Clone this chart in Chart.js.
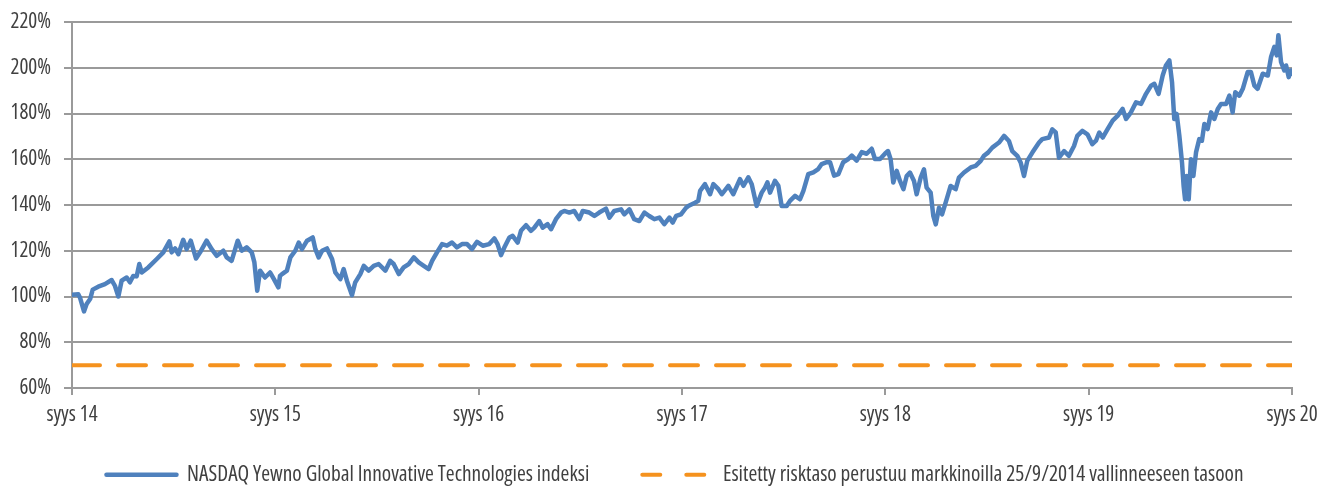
<!DOCTYPE html>
<html>
<head>
<meta charset="utf-8">
<script src="https://cdn.jsdelivr.net/npm/chart.js@4/dist/chart.umd.min.js"></script>
<style>
  html, body { margin: 0; padding: 0; background: #ffffff; }
  canvas { display: block; }
</style>
</head>
<body>
<canvas id="c" width="1336" height="493"></canvas>
<script>
// ---- data (x = years since "syys 14", y = index level in %) ----
const xTickLabels = ['syys 14', 'syys 15', 'syys 16', 'syys 17', 'syys 18', 'syys 19', 'syys 20'];
const seriesNames = ['NASDAQ Yewno Global Innovative Technologies indeksi',
                     'Esitetty risktaso perustuu markkinoilla 25/9/2014 vallinneeseen tasoon'];
const years = [
  0, 0.031, 0.039, 0.059, 0.072, 0.089, 0.102, 0.129, 0.162, 0.195, 0.211, 0.228, 0.244, 0.269, 0.285,
  0.301, 0.318, 0.331, 0.343, 0.375, 0.417, 0.449, 0.479, 0.49, 0.507, 0.523, 0.547, 0.564, 0.584, 0.61,
  0.63, 0.662, 0.687, 0.712, 0.744, 0.761, 0.785, 0.815, 0.835, 0.859, 0.884, 0.897, 0.911, 0.925, 0.949,
  0.974, 0.993, 1.015, 1.023,
  1.033, 1.057, 1.074, 1.098, 1.115, 1.131, 1.156, 1.184, 1.197, 1.213, 1.23, 1.254, 1.279, 1.295, 1.32,
  1.336, 1.352, 1.377, 1.393, 1.418, 1.435, 1.459, 1.484, 1.508, 1.541, 1.565, 1.582, 1.607, 1.631, 1.656,
  1.681, 1.705, 1.73, 1.754, 1.771, 1.795, 1.82, 1.844, 1.869, 1.893, 1.918, 1.943, 1.967, 1.992,
  2.02, 2.052, 2.077, 2.093, 2.11, 2.126, 2.151, 2.167, 2.192, 2.208, 2.233, 2.257, 2.274, 2.298, 2.315,
  2.339, 2.356, 2.38, 2.405, 2.421, 2.446, 2.47, 2.495, 2.512, 2.544, 2.569, 2.593, 2.626, 2.643, 2.667,
  2.7, 2.716, 2.741, 2.765, 2.79, 2.815, 2.839, 2.864, 2.889, 2.913, 2.938, 2.954, 2.971, 2.995,
  3.02, 3.031, 3.064, 3.08, 3.089, 3.113, 3.138, 3.154, 3.179, 3.196, 3.228, 3.252, 3.285, 3.302, 3.326,
  3.343, 3.367, 3.392, 3.408, 3.42, 3.433, 3.457, 3.474, 3.49, 3.515, 3.531, 3.556, 3.58, 3.597, 3.621,
  3.646, 3.67, 3.687, 3.712, 3.728, 3.748, 3.769, 3.793, 3.818, 3.835, 3.859, 3.884, 3.908, 3.933, 3.949,
  3.974, 3.998,
  4.013, 4.026, 4.039, 4.056, 4.072, 4.089, 4.105, 4.121, 4.141, 4.154, 4.174, 4.19, 4.203, 4.223, 4.236,
  4.248, 4.264, 4.279, 4.304, 4.321, 4.346, 4.362, 4.387, 4.42, 4.444, 4.469, 4.485, 4.505, 4.526, 4.559,
  4.584, 4.608, 4.624, 4.649, 4.666, 4.682, 4.698, 4.723, 4.756, 4.772, 4.805, 4.821, 4.838, 4.854, 4.879,
  4.903, 4.928, 4.944, 4.969, 4.994, 5.018,
  5.036, 5.052, 5.069, 5.093, 5.118, 5.143, 5.167, 5.184, 5.208, 5.233, 5.258, 5.282, 5.307, 5.323, 5.344,
  5.364, 5.38, 5.397, 5.41, 5.421, 5.433, 5.446, 5.459, 5.467, 5.474, 5.482, 5.492, 5.503, 5.515, 5.528,
  5.544, 5.557, 5.569, 5.585, 5.602, 5.618, 5.635, 5.651, 5.676, 5.692, 5.708, 5.721, 5.741, 5.758, 5.782,
  5.798, 5.815, 5.831, 5.856, 5.881, 5.897, 5.913, 5.925, 5.933, 5.946, 5.962, 5.971, 5.984, 5.995, 6.0
];
const indexValues = [
  100.8, 101, 99.6, 93.5, 96.7, 98.9, 103, 104.3, 105.4, 107.2, 104.7, 100, 106.9, 108.3, 106.2,
  109, 108.8, 114.2, 110.5, 112.7, 116.4, 119.3, 124.1, 119.3, 121, 118.5, 124.8, 120.7, 124.4, 116.6,
  119.3, 124.4, 120.7, 117.8, 120, 117.1, 115.6, 124.4, 120, 121.5, 119.3, 114.9, 102.5, 111.3, 108.3,
  110.5, 107.6, 104, 109,
  109.8, 111.3, 117.1, 120, 123.6, 120.7, 124.4, 125.8, 120.7, 117.1, 120, 121, 116.4, 110.5, 107.6,
  112, 106.9, 100.6, 106.2, 109.8, 113.4, 111.3, 113.4, 114.2, 111.3, 115.6, 114.2, 109.8, 112.7, 114.2,
  117.1, 114.9, 113.4, 112, 115.6, 119.3, 122.9, 122.2, 123.6, 121.5, 122.9, 122.9, 120.7, 123.9,
  122.2, 122.9, 125.4, 122.9, 118.1, 121.4, 125.8, 126.5, 123.6, 128.7, 131.2, 128.7, 130.1, 133, 130.1,
  131.6, 129.4, 133.8, 136.7, 137.4, 136.7, 137.4, 133.8, 137.4, 136.7, 135.2, 136.7, 138.4, 134.5, 137.4,
  138.1, 135.9, 138.1, 133.8, 133, 136.7, 135.2, 133.8, 134.5, 131.6, 134.5, 132.3, 135.2, 135.9,
  138.8, 139.6, 141, 141.8, 146.2, 149.1, 144.7, 149.1, 146.9, 144.7, 148.4, 144.7, 151.3, 148.4, 152.1,
  149.1, 139.6, 145.4, 147.6, 149.9, 145.4, 150.6, 148.4, 139.6, 139.6, 141.8, 144, 142.5, 146.2, 153.5,
  154.3, 155.7, 157.9, 158.7, 158.7, 152.8, 153.5, 158.7, 160.1, 161.6, 159.4, 163.1, 162.4, 164.6, 160.1,
  160.1, 162.4,
  163.6, 160, 149.8, 154.9, 150.5, 146.9, 152.7, 154.2, 150.5, 144.7, 152, 155.6, 147.6, 145.4, 135.2,
  131.5, 138.8, 135.9, 143.2, 148.3, 146.9, 152, 154.2, 156.4, 157.1, 159.3, 161.5, 162.9, 165.1, 167.3,
  170.2, 168, 163.6, 161.5, 158.5, 152.7, 159.3, 162.9, 167.3, 168.8, 169.5, 173.1, 171.7, 160.7, 163.6,
  161.5, 165.8, 170.2, 172.4, 170.9, 166.6,
  168.1, 171.7, 169.5, 173.2, 176.9, 179.1, 182, 177.6, 180.5, 184.9, 184.2, 188.6, 192.2, 193, 188.6,
  196.6, 201, 203.2, 193.7, 177.6, 179.8, 170.3, 158.6, 148.3, 142.5, 152.7, 142.5, 160, 152.7, 163,
  168.8, 168.1, 175.4, 173.2, 180.5, 177.6, 182, 184.2, 184.2, 187.8, 180.5, 189.3, 187.8, 190.8, 198.1,
  198.1, 192.2, 190.8, 197.4, 196.6, 204.7, 209.1, 205.4, 214.2, 202.5, 198.8, 201, 195.9, 198.8, 197.4
];
const riskLevel = 70;
const xRange = [0, 6];
const yRange = [60, 220];
const yStep = 20;

// ---- styling ----
const FONT_FAMILY = "'Open Sans', 'Roboto Condensed', sans-serif";
const FONT_WEIGHT = 'normal condensed';   // selects the condensed width of Open Sans
const TEXT = '#404040';
const GRID = '#9a9a9a';
const BLUE = '#4F81BD';
const ORANGE = '#F5921E';
const LEGEND_DX = 29;
const LEGEND_DY = -17;
const tickFont = { family: FONT_FAMILY, weight: FONT_WEIGHT, size: 21 };
const legendFont = { family: FONT_FAMILY, weight: FONT_WEIGHT, size: 21.3 };

const indexPoints = years.map((x, i) => ({ x: x, y: indexValues[i] }));
const riskPoints = xRange.map(x => ({ x: x, y: riskLevel }));

const legendPatch = {
  id: 'legendPatch',
  afterInit(chart) {
    const lg = chart.legend;
    if (!lg) return;
    const origFit = lg.fit;
    lg.fit = function () { origFit.call(this); this.height = 65; };
    const origDraw = lg.draw;
    lg.draw = function () {
      // shift the legend content to the reference position (bottom edge kept for clipping)
      this.left += LEGEND_DX; this.right += LEGEND_DX;
      this.top += LEGEND_DY;
      origDraw.call(this);
      this.left -= LEGEND_DX; this.right -= LEGEND_DX;
      this.top -= LEGEND_DY;
    };
  }
};

new Chart(document.getElementById('c'), {
  type: 'line',
  data: {
    datasets: [
      {
        label: seriesNames[0],
        data: indexPoints,
        borderColor: BLUE,
        backgroundColor: BLUE,
        borderWidth: 4.5,
        borderJoinStyle: 'round',
        borderCapStyle: 'round',
        pointRadius: 0,
        tension: 0
      },
      {
        label: seriesNames[1],
        data: riskPoints,
        borderColor: ORANGE,
        backgroundColor: ORANGE,
        borderWidth: 4,
        borderDash: [28, 18],
        borderCapStyle: 'round',
        pointRadius: 0,
        tension: 0
      }
    ]
  },
  plugins: [legendPatch],
  options: {
    responsive: false,
    animation: false,
    devicePixelRatio: 1,
    layout: { padding: { top: 22, right: 44, bottom: 0, left: 0 } },
    plugins: {
      tooltip: { enabled: false },
      legend: {
        position: 'bottom',
        align: 'center',
        labels: {
          usePointStyle: true,
          pointStyle: 'line',
          pointStyleWidth: 70,
          padding: 53,
          color: TEXT,
          font: legendFont,
          generateLabels(chart) {
            const items = Chart.defaults.plugins.legend.labels.generateLabels(chart);
            items.forEach((it, i) => {
              it.pointStyle = 'line';
              it.lineCap = 'round';
              if (i === 1) it.lineDash = [18, 26];
            });
            return items;
          }
        }
      }
    },
    scales: {
      x: {
        type: 'linear',
        min: xRange[0],
        max: xRange[1],
        afterFit(scale) { scale.height = 40; scale.paddingLeft = 0; scale.paddingRight = 0; },
        ticks: {
          stepSize: 1,
          autoSkip: false,
          maxRotation: 0,
          padding: 7,
          color: TEXT,
          font: tickFont,
          callback: (v) => xTickLabels[v]
        },
        grid: { drawOnChartArea: false, drawTicks: true, tickLength: 7, color: GRID, lineWidth: 2 },
        border: { display: true, color: GRID, width: 2 }
      },
      y: {
        min: yRange[0],
        max: yRange[1],
        afterFit(scale) { scale.width = 72; scale.paddingTop = 0; scale.paddingBottom = 0; },
        ticks: {
          stepSize: yStep,
          padding: 13,
          color: TEXT,
          font: tickFont,
          callback: (v) => v + '%'
        },
        grid: { color: GRID, lineWidth: 2, tickLength: 8, drawTicks: true },
        border: { display: true, color: GRID, width: 2 }
      }
    }
  }
});
</script>
</body>
</html>
